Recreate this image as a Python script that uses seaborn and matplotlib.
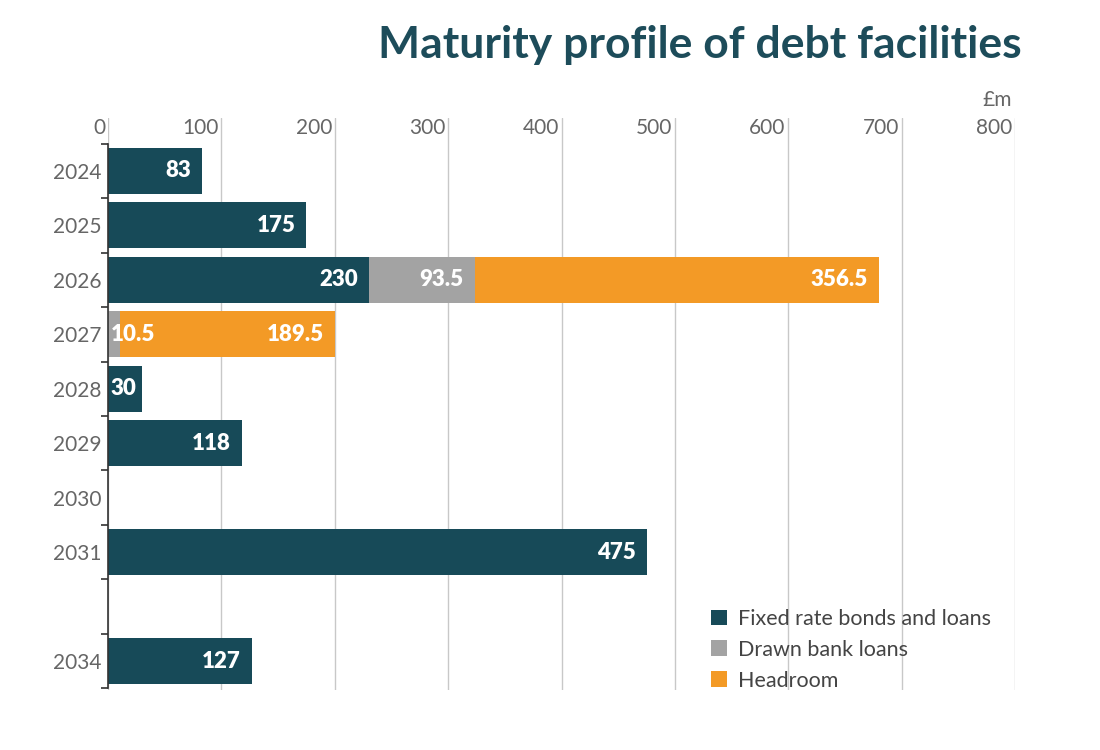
import pandas as pd
import matplotlib.pyplot as plt
import seaborn as sns

# values (£m)
years = ['2024', '2025', '2026', '2027', '2028', '2029', '2030', '2031', ' ', '2034']
fixed = [83, 175, 230, 0, 30, 118, 0, 475, 0, 127]
drawn = [0, 0, 93.5, 10.5, 0, 0, 0, 0, 0, 0]
headroom = [0, 0, 356.5, 189.5, 0, 0, 0, 0, 0, 0]
series_names = ['Fixed rate bonds and loans', 'Drawn bank loans', 'Headroom']
x_ticks = [0, 100, 200, 300, 400, 500, 600, 700, 800]

teal = '#174a58'
grey = '#a3a3a3'
orange = '#f39a26'
label_grey = '#666666'

df = pd.DataFrame({'year': years, 'fixed': fixed, 'drawn': drawn, 'headroom': headroom})
df['fixed_end'] = df['fixed']
df['drawn_end'] = df['fixed'] + df['drawn']
df['total'] = df['drawn_end'] + df['headroom']

sns.set_style('white')
plt.rcParams['font.family'] = ['Lato', 'DejaVu Sans']

fig = plt.figure(figsize=(11, 7.5), dpi=100)
ax = fig.add_axes([108 / 1100, 60 / 750, 907 / 1100, 572 / 750])

# stacked bars drawn as cumulative layers, back to front
sns.barplot(data=df, x='total', y='year', order=years, orient='h', color=orange,
            saturation=1, width=0.85, linewidth=0, ax=ax, label=series_names[2])
sns.barplot(data=df, x='drawn_end', y='year', order=years, orient='h', color=grey,
            saturation=1, width=0.85, linewidth=0, ax=ax, label=series_names[1])
sns.barplot(data=df, x='fixed_end', y='year', order=years, orient='h', color=teal,
            saturation=1, width=0.85, linewidth=0, ax=ax, label=series_names[0])

# value labels inside each segment
for i, row in df.iterrows():
    start = 0
    for col in ['fixed', 'drawn', 'headroom']:
        v = row[col]
        if v > 0:
            txt = f'{v:g}'
            if v < 40:
                ax.annotate(txt, xy=(start, i), xytext=(2, 0), textcoords='offset points',
                            ha='left', va='center', color='white', fontsize=16, fontweight='heavy')
            else:
                ax.annotate(txt, xy=(start + v, i), xytext=(-8, 0), textcoords='offset points',
                            ha='right', va='center', color='white', fontsize=16, fontweight='heavy')
        start += v

ax.set_xlim(0, 800)
ax.set_ylim(9.53, -0.97)

# vertical gridlines with labels tucked to their left
for t in x_ticks:
    ax.axvline(t, color='#c8c8c8', lw=1, zorder=0)
    ax.annotate(str(t), xy=(t, 1), xycoords=('data', 'axes fraction'), xytext=(-2, 0),
                textcoords='offset points', ha='right', va='top', color=label_grey, fontsize=15)
ax.annotate('£m', xy=(800, 1), xycoords=('data', 'axes fraction'), xytext=(-2, 6),
            textcoords='offset points', ha='right', va='bottom', color=label_grey, fontsize=15)

ax.set_xticks([])
ax.set_xlabel('')
ax.set_ylabel('')
ax.tick_params(axis='y', which='major', left=False, labelsize=15, labelcolor=label_grey, pad=1)
ax.set_yticks([i + 0.5 for i in range(-1, 10)], minor=True)
ax.tick_params(axis='y', which='minor', left=True, length=5, width=1.2, color='#333333', direction='out')

for s in ['top', 'right', 'bottom']:
    ax.spines[s].set_visible(False)
ax.spines['left'].set_bounds(-0.5, 9.5)
ax.spines['left'].set_color('#333333')
ax.spines['left'].set_linewidth(1.2)

# legend in the lower right, fixed rate first
handles, labels = ax.get_legend_handles_labels()
order = [labels.index(n) for n in series_names]
leg = ax.legend([handles[k] for k in order], [labels[k] for k in order],
                loc='lower right', bbox_to_anchor=(0.995, -0.035), frameon=False,
                fontsize=15.5, handlelength=0.75, handleheight=0.75, handletextpad=0.5,
                labelspacing=0.5, labelcolor='#444444')

fig.text(1022 / 1100, 1 - 45 / 750, 'Maturity profile of debt facilities', ha='right', va='center',
         fontsize=32, fontweight='bold', color='#1d4c5a')

plt.savefig('out.png', dpi=100)
